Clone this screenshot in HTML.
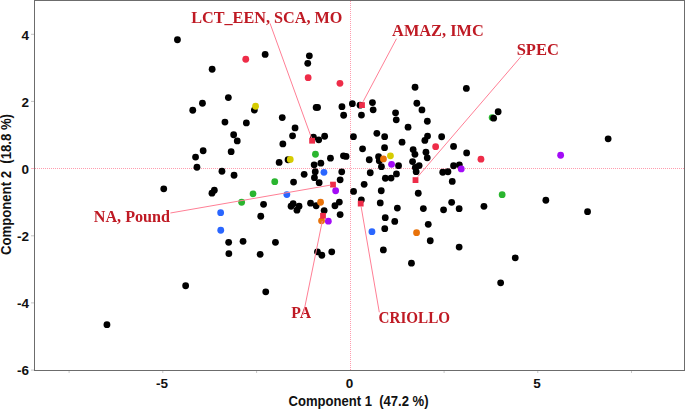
<!DOCTYPE html>
<html><head><meta charset="utf-8"><style>
html,body{margin:0;padding:0;background:#fff;}
body{width:685px;height:409px;overflow:hidden;position:relative;}
svg{position:absolute;left:0;top:0;}
.tk{font-family:"Liberation Sans",sans-serif;font-weight:bold;font-size:13.5px;fill:#111;}
.ax{font-family:"Liberation Sans",sans-serif;font-weight:bold;font-size:14px;fill:#111;}
.lb{font-family:"Liberation Serif",serif;font-weight:bold;font-size:17px;fill:#bf1a24;}
</style></head><body>
<svg width="685" height="409" viewBox="0 0 685 409">

<rect x="34" y="0" width="651" height="1" fill="#6c6c6c"/>
<rect x="34" y="0" width="1" height="371" fill="#6c6c6c"/>
<rect x="684" y="0" width="1" height="371" fill="#6c6c6c"/>
<rect x="34" y="370" width="651" height="1" fill="#6c6c6c"/>
<line x1="35" y1="168.5" x2="684" y2="168.5" stroke="#ff9cae" stroke-width="1" stroke-dasharray="1 1"/>
<line x1="31" y1="168.5" x2="34" y2="168.5" stroke="#ffb0bd" stroke-width="1"/>
<line x1="350.5" y1="1" x2="350.5" y2="370" stroke="#ff9cae" stroke-width="1" stroke-dasharray="1 1"/>
<line x1="31" y1="34.3" x2="34" y2="34.3" stroke="#c4c4c4" stroke-width="1"/>
<text class="tk" x="29.0" y="39.5" text-anchor="end">4</text>
<line x1="31" y1="101.4" x2="34" y2="101.4" stroke="#c4c4c4" stroke-width="1"/>
<text class="tk" x="29.0" y="106.6" text-anchor="end">2</text>
<text class="tk" x="29.0" y="173.8" text-anchor="end">0</text>
<line x1="31" y1="235.8" x2="34" y2="235.8" stroke="#c4c4c4" stroke-width="1"/>
<text class="tk" x="29.0" y="241.0" text-anchor="end">-2</text>
<line x1="31" y1="302.9" x2="34" y2="302.9" stroke="#c4c4c4" stroke-width="1"/>
<text class="tk" x="29.0" y="308.1" text-anchor="end">-4</text>
<line x1="31" y1="370.1" x2="34" y2="370.1" stroke="#c4c4c4" stroke-width="1"/>
<text class="tk" x="29.0" y="375.3" text-anchor="end">-6</text>
<line x1="69.1" y1="371" x2="69.1" y2="373" stroke="#c8c8c8" stroke-width="1"/>
<line x1="162.8" y1="371" x2="162.8" y2="373" stroke="#c8c8c8" stroke-width="1"/>
<line x1="256.6" y1="371" x2="256.6" y2="373" stroke="#c8c8c8" stroke-width="1"/>
<line x1="444.1" y1="371" x2="444.1" y2="373" stroke="#c8c8c8" stroke-width="1"/>
<line x1="537.8" y1="371" x2="537.8" y2="373" stroke="#c8c8c8" stroke-width="1"/>
<line x1="631.5" y1="371" x2="631.5" y2="373" stroke="#c8c8c8" stroke-width="1"/>
<text class="tk" x="162.1" y="388" text-anchor="middle">-5</text>
<text class="tk" x="349.6" y="388" text-anchor="middle">0</text>
<text class="tk" x="537.1" y="388" text-anchor="middle">5</text>
<text class="ax" x="288.5" y="405.9" xml:space="preserve" textLength="140" lengthAdjust="spacingAndGlyphs">Component 1  (47.2 %)</text>
<text class="ax" transform="translate(10.8,255) rotate(-90)" xml:space="preserve" textLength="141" lengthAdjust="spacingAndGlyphs">Component 2  (18.8 %)</text>
<circle cx="492.15" cy="117.55" r="3.4" fill="#2ab52f"/>
<circle cx="177.45" cy="39.75" r="3.4" fill="#000"/>
<circle cx="265.15" cy="54.45" r="3.4" fill="#000"/>
<circle cx="212.15" cy="69.25" r="3.4" fill="#000"/>
<circle cx="309.35" cy="55.85" r="3.4" fill="#000"/>
<circle cx="307.75" cy="63.35" r="3.4" fill="#000"/>
<circle cx="228.35" cy="97.55" r="3.4" fill="#000"/>
<circle cx="202.45" cy="103.25" r="3.4" fill="#000"/>
<circle cx="192.75" cy="110.25" r="3.4" fill="#000"/>
<circle cx="254.35" cy="110.05" r="3.4" fill="#000"/>
<circle cx="224.95" cy="122.05" r="3.4" fill="#000"/>
<circle cx="246.35" cy="122.95" r="3.4" fill="#000"/>
<circle cx="233.65" cy="134.75" r="3.4" fill="#000"/>
<circle cx="237.25" cy="140.95" r="3.4" fill="#000"/>
<circle cx="203.15" cy="150.75" r="3.4" fill="#000"/>
<circle cx="231.15" cy="151.65" r="3.4" fill="#000"/>
<circle cx="195.55" cy="157.05" r="3.4" fill="#000"/>
<circle cx="196.95" cy="167.25" r="3.4" fill="#000"/>
<circle cx="221.95" cy="171.25" r="3.4" fill="#000"/>
<circle cx="234.05" cy="175.25" r="3.4" fill="#000"/>
<circle cx="163.75" cy="188.85" r="3.4" fill="#000"/>
<circle cx="214.35" cy="190.25" r="3.4" fill="#000"/>
<circle cx="211.95" cy="193.15" r="3.4" fill="#000"/>
<circle cx="263.55" cy="204.35" r="3.4" fill="#000"/>
<circle cx="260.75" cy="216.25" r="3.4" fill="#000"/>
<circle cx="228.65" cy="242.35" r="3.4" fill="#000"/>
<circle cx="243.05" cy="241.35" r="3.4" fill="#000"/>
<circle cx="228.85" cy="253.65" r="3.4" fill="#000"/>
<circle cx="260.15" cy="254.35" r="3.4" fill="#000"/>
<circle cx="275.45" cy="242.35" r="3.4" fill="#000"/>
<circle cx="185.65" cy="285.75" r="3.4" fill="#000"/>
<circle cx="106.95" cy="324.65" r="3.4" fill="#000"/>
<circle cx="265.75" cy="291.85" r="3.4" fill="#000"/>
<circle cx="316.15" cy="107.45" r="3.4" fill="#000"/>
<circle cx="317.55" cy="107.45" r="3.4" fill="#000"/>
<circle cx="282.25" cy="117.55" r="3.4" fill="#000"/>
<circle cx="295.05" cy="127.95" r="3.4" fill="#000"/>
<circle cx="292.55" cy="135.85" r="3.4" fill="#000"/>
<circle cx="282.85" cy="143.95" r="3.4" fill="#000"/>
<circle cx="313.45" cy="137.25" r="3.4" fill="#000"/>
<circle cx="318.75" cy="139.85" r="3.4" fill="#000"/>
<circle cx="324.65" cy="136.25" r="3.4" fill="#000"/>
<circle cx="330.45" cy="158.15" r="3.4" fill="#000"/>
<circle cx="279.15" cy="162.45" r="3.4" fill="#000"/>
<circle cx="288.05" cy="159.75" r="3.4" fill="#000"/>
<circle cx="314.15" cy="164.85" r="3.4" fill="#000"/>
<circle cx="320.85" cy="163.15" r="3.4" fill="#000"/>
<circle cx="341.95" cy="106.65" r="3.4" fill="#000"/>
<circle cx="343.65" cy="115.25" r="3.4" fill="#000"/>
<circle cx="352.35" cy="103.65" r="3.4" fill="#000"/>
<circle cx="360.05" cy="105.15" r="3.4" fill="#000"/>
<circle cx="361.45" cy="115.05" r="3.4" fill="#000"/>
<circle cx="372.45" cy="102.55" r="3.4" fill="#000"/>
<circle cx="373.15" cy="109.85" r="3.4" fill="#000"/>
<circle cx="395.55" cy="112.85" r="3.4" fill="#000"/>
<circle cx="396.25" cy="119.85" r="3.4" fill="#000"/>
<circle cx="415.05" cy="87.25" r="3.4" fill="#000"/>
<circle cx="466.35" cy="88.45" r="3.4" fill="#000"/>
<circle cx="416.85" cy="103.25" r="3.4" fill="#000"/>
<circle cx="421.95" cy="109.95" r="3.4" fill="#000"/>
<circle cx="427.35" cy="121.25" r="3.4" fill="#000"/>
<circle cx="408.05" cy="127.15" r="3.4" fill="#000"/>
<circle cx="498.15" cy="111.75" r="3.4" fill="#000"/>
<circle cx="493.65" cy="118.15" r="3.4" fill="#000"/>
<circle cx="376.85" cy="133.35" r="3.4" fill="#000"/>
<circle cx="384.65" cy="136.65" r="3.4" fill="#000"/>
<circle cx="353.45" cy="136.65" r="3.4" fill="#000"/>
<circle cx="402.05" cy="142.15" r="3.4" fill="#000"/>
<circle cx="362.55" cy="148.85" r="3.4" fill="#000"/>
<circle cx="384.55" cy="147.65" r="3.4" fill="#000"/>
<circle cx="413.15" cy="149.55" r="3.4" fill="#000"/>
<circle cx="414.95" cy="154.35" r="3.4" fill="#000"/>
<circle cx="343.45" cy="155.85" r="3.4" fill="#000"/>
<circle cx="346.05" cy="156.45" r="3.4" fill="#000"/>
<circle cx="369.25" cy="159.75" r="3.4" fill="#000"/>
<circle cx="378.55" cy="156.65" r="3.4" fill="#000"/>
<circle cx="379.25" cy="160.85" r="3.4" fill="#000"/>
<circle cx="381.45" cy="166.65" r="3.4" fill="#000"/>
<circle cx="398.55" cy="165.65" r="3.4" fill="#000"/>
<circle cx="370.25" cy="172.75" r="3.4" fill="#000"/>
<circle cx="385.35" cy="178.25" r="3.4" fill="#000"/>
<circle cx="391.05" cy="178.05" r="3.4" fill="#000"/>
<circle cx="396.45" cy="173.95" r="3.4" fill="#000"/>
<circle cx="364.15" cy="184.35" r="3.4" fill="#000"/>
<circle cx="425.95" cy="152.25" r="3.4" fill="#000"/>
<circle cx="427.25" cy="157.85" r="3.4" fill="#000"/>
<circle cx="412.55" cy="161.55" r="3.4" fill="#000"/>
<circle cx="419.15" cy="165.55" r="3.4" fill="#000"/>
<circle cx="415.35" cy="167.45" r="3.4" fill="#000"/>
<circle cx="416.15" cy="171.65" r="3.4" fill="#000"/>
<circle cx="427.55" cy="136.05" r="3.4" fill="#000"/>
<circle cx="424.85" cy="140.45" r="3.4" fill="#000"/>
<circle cx="441.65" cy="136.75" r="3.4" fill="#000"/>
<circle cx="453.55" cy="146.45" r="3.4" fill="#000"/>
<circle cx="466.65" cy="152.95" r="3.4" fill="#000"/>
<circle cx="453.55" cy="165.75" r="3.4" fill="#000"/>
<circle cx="459.35" cy="164.85" r="3.4" fill="#000"/>
<circle cx="442.75" cy="172.25" r="3.4" fill="#000"/>
<circle cx="447.95" cy="171.75" r="3.4" fill="#000"/>
<circle cx="452.25" cy="181.45" r="3.4" fill="#000"/>
<circle cx="418.25" cy="193.25" r="3.4" fill="#000"/>
<circle cx="451.65" cy="202.35" r="3.4" fill="#000"/>
<circle cx="423.35" cy="208.55" r="3.4" fill="#000"/>
<circle cx="443.55" cy="209.85" r="3.4" fill="#000"/>
<circle cx="459.15" cy="208.65" r="3.4" fill="#000"/>
<circle cx="483.95" cy="206.35" r="3.4" fill="#000"/>
<circle cx="608.15" cy="138.85" r="3.4" fill="#000"/>
<circle cx="545.85" cy="200.25" r="3.4" fill="#000"/>
<circle cx="587.55" cy="211.65" r="3.4" fill="#000"/>
<circle cx="315.25" cy="171.75" r="3.4" fill="#000"/>
<circle cx="304.15" cy="174.35" r="3.4" fill="#000"/>
<circle cx="314.45" cy="177.65" r="3.4" fill="#000"/>
<circle cx="319.15" cy="182.65" r="3.4" fill="#000"/>
<circle cx="293.55" cy="182.05" r="3.4" fill="#000"/>
<circle cx="341.75" cy="171.85" r="3.4" fill="#000"/>
<circle cx="340.15" cy="179.85" r="3.4" fill="#000"/>
<circle cx="353.55" cy="191.45" r="3.4" fill="#000"/>
<circle cx="381.25" cy="190.75" r="3.4" fill="#000"/>
<circle cx="380.25" cy="202.95" r="3.4" fill="#000"/>
<circle cx="397.35" cy="208.05" r="3.4" fill="#000"/>
<circle cx="361.35" cy="199.85" r="3.4" fill="#000"/>
<circle cx="339.35" cy="202.05" r="3.4" fill="#000"/>
<circle cx="334.95" cy="205.75" r="3.4" fill="#000"/>
<circle cx="293.15" cy="203.75" r="3.4" fill="#000"/>
<circle cx="291.05" cy="206.25" r="3.4" fill="#000"/>
<circle cx="299.05" cy="206.25" r="3.4" fill="#000"/>
<circle cx="296.95" cy="210.15" r="3.4" fill="#000"/>
<circle cx="310.55" cy="203.15" r="3.4" fill="#000"/>
<circle cx="316.15" cy="205.75" r="3.4" fill="#000"/>
<circle cx="324.15" cy="210.55" r="3.4" fill="#000"/>
<circle cx="340.15" cy="214.55" r="3.4" fill="#000"/>
<circle cx="317.45" cy="251.85" r="3.4" fill="#000"/>
<circle cx="321.85" cy="255.25" r="3.4" fill="#000"/>
<circle cx="331.75" cy="251.85" r="3.4" fill="#000"/>
<circle cx="385.25" cy="217.65" r="3.4" fill="#000"/>
<circle cx="394.75" cy="221.45" r="3.4" fill="#000"/>
<circle cx="384.75" cy="228.65" r="3.4" fill="#000"/>
<circle cx="383.35" cy="249.95" r="3.4" fill="#000"/>
<circle cx="411.45" cy="263.15" r="3.4" fill="#000"/>
<circle cx="428.25" cy="224.35" r="3.4" fill="#000"/>
<circle cx="430.25" cy="240.75" r="3.4" fill="#000"/>
<circle cx="459.15" cy="247.05" r="3.4" fill="#000"/>
<circle cx="515.25" cy="257.85" r="3.4" fill="#000"/>
<circle cx="500.65" cy="282.85" r="3.4" fill="#000"/>
<circle cx="245.75" cy="59.25" r="3.4" fill="#ee2c48"/>
<circle cx="308.15" cy="77.65" r="3.4" fill="#ee2c48"/>
<circle cx="339.95" cy="83.35" r="3.4" fill="#ee2c48"/>
<circle cx="435.65" cy="146.65" r="3.4" fill="#ee2c48"/>
<circle cx="480.95" cy="159.15" r="3.4" fill="#ee2c48"/>
<circle cx="255.55" cy="106.25" r="3.4" fill="#d6cc00"/>
<circle cx="290.25" cy="159.45" r="3.4" fill="#d6cc00"/>
<circle cx="390.45" cy="155.85" r="3.4" fill="#d6cc00"/>
<circle cx="315.45" cy="154.25" r="3.4" fill="#2ab52f"/>
<circle cx="274.75" cy="181.65" r="3.4" fill="#2ab52f"/>
<circle cx="253.05" cy="193.85" r="3.4" fill="#2ab52f"/>
<circle cx="241.65" cy="202.25" r="3.4" fill="#2ab52f"/>
<circle cx="502.15" cy="194.65" r="3.4" fill="#2ab52f"/>
<circle cx="220.65" cy="212.65" r="3.4" fill="#2a66ff"/>
<circle cx="220.75" cy="230.25" r="3.4" fill="#2a66ff"/>
<circle cx="286.85" cy="194.55" r="3.4" fill="#2a66ff"/>
<circle cx="323.95" cy="172.35" r="3.4" fill="#2a66ff"/>
<circle cx="371.95" cy="231.65" r="3.4" fill="#2a66ff"/>
<circle cx="383.45" cy="158.95" r="3.4" fill="#e8720a"/>
<circle cx="320.55" cy="202.25" r="3.4" fill="#e8720a"/>
<circle cx="321.55" cy="220.85" r="3.4" fill="#e8720a"/>
<circle cx="416.55" cy="232.65" r="3.4" fill="#e8720a"/>
<circle cx="391.55" cy="164.35" r="3.4" fill="#a30bf7"/>
<circle cx="335.65" cy="190.75" r="3.4" fill="#a30bf7"/>
<circle cx="328.35" cy="221.15" r="3.4" fill="#a30bf7"/>
<circle cx="461.25" cy="168.95" r="3.4" fill="#a30bf7"/>
<circle cx="560.65" cy="155.25" r="3.4" fill="#a30bf7"/>
<rect x="309.2" y="137.8" width="5.8" height="5.8" fill="#ee2c48"/>
<rect x="359.1" y="102.2" width="5.8" height="5.8" fill="#ee2c48"/>
<rect x="412.6" y="177.2" width="5.8" height="5.8" fill="#ee2c48"/>
<rect x="330.1" y="181.7" width="5.8" height="5.8" fill="#ee2c48"/>
<rect x="320.1" y="212.9" width="5.8" height="5.8" fill="#ee2c48"/>
<rect x="357.8" y="200.7" width="5.8" height="5.8" fill="#ee2c48"/>
</svg>
<svg width="685" height="409" viewBox="0 0 685 409" style="will-change:transform">
<text class="lb" x="191.2" y="22.8" textLength="151.2" lengthAdjust="spacingAndGlyphs">LCT_EEN, SCA, MO</text>
<text class="lb" x="392.1" y="35.7" textLength="91.6" lengthAdjust="spacingAndGlyphs">AMAZ, IMC</text>
<text class="lb" x="516.7" y="54.9" textLength="42.2" lengthAdjust="spacingAndGlyphs">SPEC</text>
<text class="lb" x="93.8" y="221.7" textLength="76.2" lengthAdjust="spacingAndGlyphs">NA, Pound</text>
<text class="lb" x="291.3" y="317.9" textLength="19.8" lengthAdjust="spacingAndGlyphs">PA</text>
<text class="lb" x="378.5" y="323.4" textLength="71.6" lengthAdjust="spacingAndGlyphs">CRIOLLO</text>
<line x1="270.0" y1="23.3" x2="311.5" y2="138.0" stroke="#ff7f95" stroke-width="1"/>
<line x1="396.5" y1="38.7" x2="363.0" y2="101.8" stroke="#ff7f95" stroke-width="1"/>
<line x1="521.0" y1="56.6" x2="417.8" y2="176.7" stroke="#ff7f95" stroke-width="1"/>
<line x1="170.4" y1="213.0" x2="331.0" y2="185.0" stroke="#ff7f95" stroke-width="1"/>
<line x1="303.2" y1="315.0" x2="322.3" y2="221.0" stroke="#ff7f95" stroke-width="1"/>
<line x1="379.3" y1="312.3" x2="361.0" y2="206.0" stroke="#ff7f95" stroke-width="1"/>
</svg>
</body></html>
